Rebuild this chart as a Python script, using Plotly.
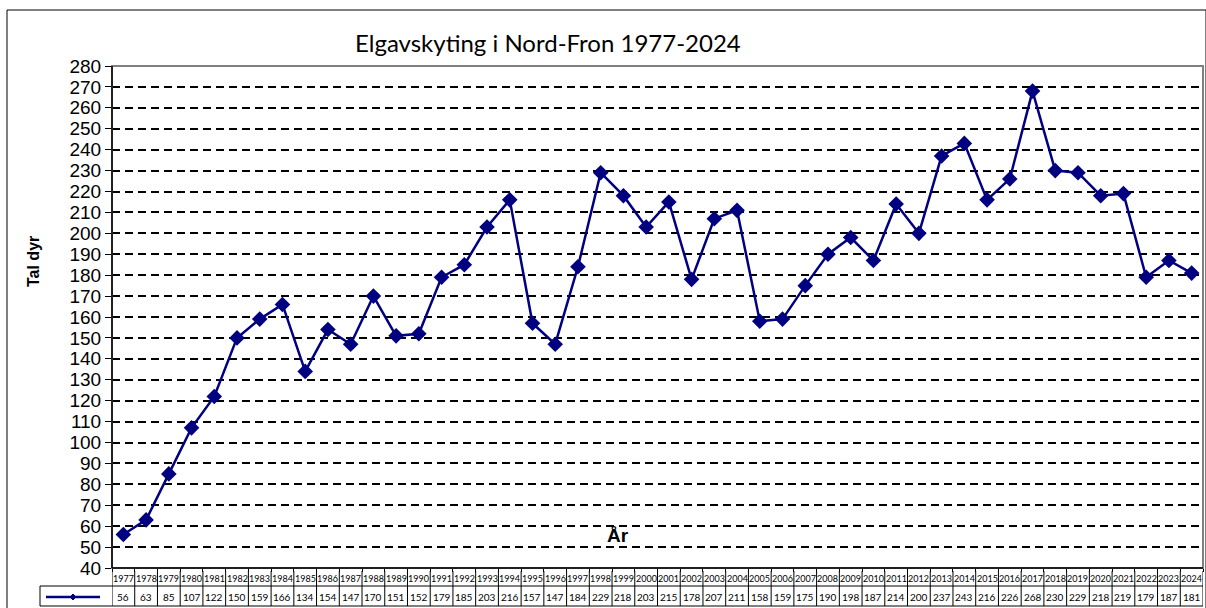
import plotly.graph_objects as go

years = [str(y) for y in range(1977, 2025)]
values = [56, 63, 85, 107, 122, 150, 159, 166, 134, 154,
          147, 170, 151, 152, 179, 185, 203, 216, 157, 147,
          184, 229, 218, 203, 215, 178, 207, 211, 158, 159,
          175, 190, 198, 187, 214, 200, 237, 243, 216, 226,
          268, 230, 229, 218, 219, 179, 187, 181]
title_text = "Elgavskyting i Nord-Fron 1977-2024"
y_title = "Tal dyr"
x_title = "År"

W, H = 1206, 608
L, R, T, B = 112, 1203, 66, 568
pw, ph = R - L, B - T

def px(xp):
    return (xp - L) / pw

def py(yp):
    return (B - yp) / ph

NAVY = "#000080"
n = len(years)

fig = go.Figure()
fig.add_trace(go.Scatter(
    x=list(range(n)), y=values, mode="lines+markers",
    line=dict(color=NAVY, width=2.5),
    marker=dict(symbol="diamond", size=12, color=NAVY),
    showlegend=False, hoverinfo="x+y"))

shapes = []
annotations = []

# plot area border (gray top/right)
shapes.append(dict(type="rect", xref="paper", yref="paper", x0=0, x1=1, y0=0, y1=1,
                   line=dict(color="#808080", width=2), layer="above"))
shapes.append(dict(type="line", xref="paper", yref="paper", x0=0, x1=0, y0=0, y1=1,
                   line=dict(color="black", width=1.5), layer="above"))
shapes.append(dict(type="line", xref="paper", yref="paper", x0=0, x1=1, y0=0, y1=0,
                   line=dict(color="black", width=1.5), layer="above"))
# outer chart frame
shapes.append(dict(type="rect", xref="paper", yref="paper", x0=px(7), x1=px(1206), y0=py(630), y1=py(10),
                   line=dict(color="black", width=1)))

# data table
for i in range(n + 1):
    shapes.append(dict(type="line", xref="x", yref="paper", x0=i - 0.5, x1=i - 0.5,
                       y0=py(571), y1=py(606), line=dict(color="black", width=1)))
for yy in (586, 606):
    shapes.append(dict(type="line", xref="paper", yref="paper", x0=px(40), x1=1,
                       y0=py(yy), y1=py(yy), line=dict(color="black", width=1)))
shapes.append(dict(type="line", xref="paper", yref="paper", x0=px(40), x1=px(40),
                   y0=py(586), y1=py(606), line=dict(color="black", width=1)))
# legend key in table
shapes.append(dict(type="line", xref="paper", yref="paper", x0=px(46), x1=px(100),
                   y0=py(597), y1=py(597), line=dict(color=NAVY, width=2.5)))
cx, cy = 73, 597
shapes.append(dict(type="path", xref="paper", yref="paper",
                   path=f"M {px(cx-3)} {py(cy)} L {px(cx)} {py(cy-3)} L {px(cx+3)} {py(cy)} L {px(cx)} {py(cy+3)} Z",
                   fillcolor=NAVY, line=dict(color=NAVY, width=1)))

for i, (yr, v) in enumerate(zip(years, values)):
    annotations.append(dict(x=i, y=py(578.5), xref="x", yref="paper", text=yr, showarrow=False,
                            font=dict(family="Lato", size=9, color="black"), xanchor="center", yanchor="middle"))
    annotations.append(dict(x=i, y=py(597), xref="x", yref="paper", text=str(v), showarrow=False,
                            font=dict(family="Lato", size=10, color="black"), xanchor="center", yanchor="middle"))

annotations.append(dict(x=px(548), y=py(42), xref="paper", yref="paper", text=title_text, showarrow=False,
                        font=dict(family="Lato", size=24, color="black"), xanchor="center", yanchor="middle"))
annotations.append(dict(x=px(33), y=py(262), xref="paper", yref="paper", text=f"<b>{y_title}</b>", showarrow=False,
                        textangle=-90, font=dict(family="Liberation Sans", size=16, color="black"),
                        xanchor="center", yanchor="middle"))
annotations.append(dict(x=px(618), y=py(535), xref="paper", yref="paper", text=f"<b>{x_title}</b>", showarrow=False,
                        font=dict(family="Liberation Sans", size=19, color="black"),
                        xanchor="center", yanchor="middle"))

fig.update_layout(
    width=W, height=H,
    margin=dict(l=L, r=W - R, t=T, b=H - B),
    paper_bgcolor="white", plot_bgcolor="white",
    shapes=shapes, annotations=annotations,
    xaxis=dict(range=[-0.5, n - 0.5], tickmode="array", tickvals=[i - 0.5 for i in range(n + 1)],
               showticklabels=False, ticks="outside", ticklen=3, tickcolor="black",
               showgrid=False, zeroline=False, showline=False),
    yaxis=dict(range=[40, 280], dtick=10, tick0=40, ticks="outside", ticklen=6, tickcolor="black",
               tickfont=dict(family="Liberation Sans", size=19, color="black"),
               showgrid=True, gridcolor="black", gridwidth=2, griddash="8px,5px",
               zeroline=False, showline=False),
)

fig.write_html("out.html", config={"displayModeBar": False},
               post_script="document.body.style.margin='0';document.body.style.overflow='hidden';")
